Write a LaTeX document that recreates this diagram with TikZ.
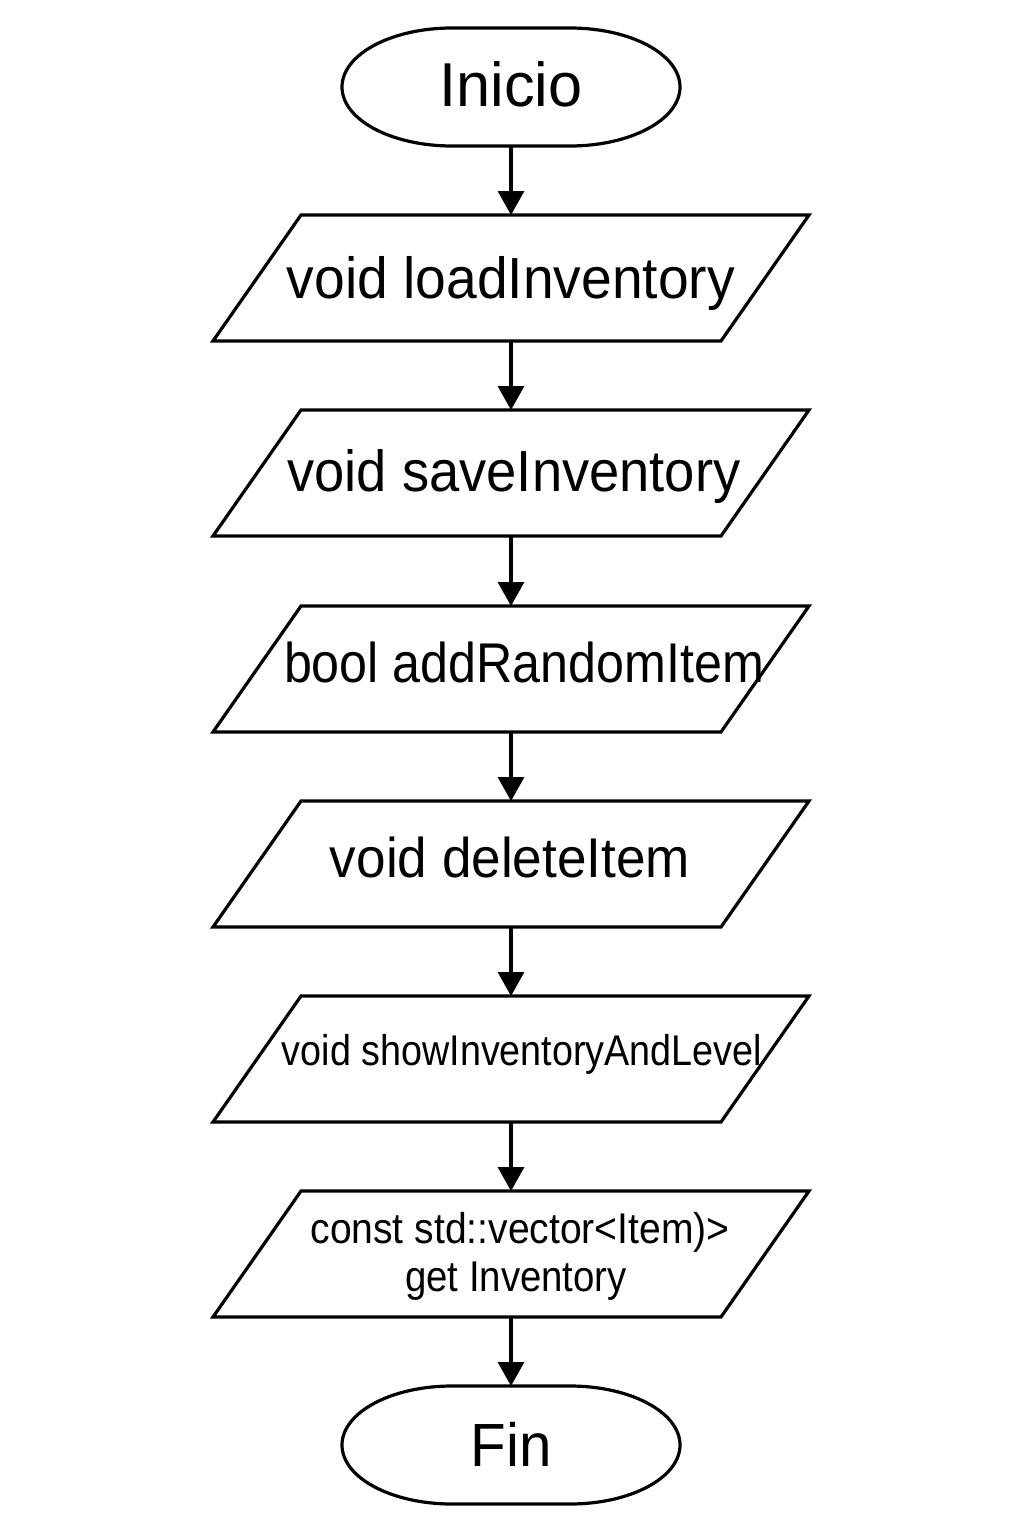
\documentclass[tikz,border=0pt]{standalone}
\usepackage{graphicx}
\usepackage{fontspec}
\setmainfont{Liberation Sans}
\usetikzlibrary{arrows.meta,calc}
\tikzset{
  box/.style={draw=none, inner sep=0pt, outer sep=0pt, minimum width=596pt, minimum height=126pt},
  term/.style={draw=none, inner sep=0pt, outer sep=0pt, minimum width=338pt, minimum height=118pt},
  lbl/.style={inner sep=0pt, outer sep=0pt, anchor=base, align=center},
  flow/.style={line width=3.2pt, -{Triangle[length=24pt,width=26pt]}},
  outline/.style={line width=3.2pt, line join=miter},
}
\newcommand{\fitw}[3]{{\fontsize{#2}{#2}\selectfont\resizebox{#1}{\height}{#3}}}
\newcommand{\drawterm}[1]{%
  \draw[outline] (#1.west) arc[start angle=180,end angle=90,x radius=110pt,y radius=59pt]
    -- ($(#1.north east)-(110,0)$) arc[start angle=90,end angle=-90,x radius=110pt,y radius=59pt]
    -- ($(#1.south west)+(110,0)$) arc[start angle=270,end angle=180,x radius=110pt,y radius=59pt] -- cycle;}
\newcommand{\drawpar}[1]{%
  \draw[outline] (#1.south west) -- ($(#1.south east)-(88,0)$) -- (#1.north east)
    -- ($(#1.north west)+(88,0)$) -- cycle;}
\begin{document}
\begin{tikzpicture}[x=1pt,y=-1pt]
\useasboundingbox[fill=white] (0,0) rectangle (1024,1536);
% shapes
\node[term] (start) at (511,87) {};
\node[box] (p1) at (511,278) {};
\node[box] (p2) at (511,473) {};
\node[box] (p3) at (511,669) {};
\node[box] (p4) at (511,864) {};
\node[box] (p5) at (511,1059) {};
\node[box] (p6) at (511,1254) {};
\node[term] (end) at (511,1445) {};
\drawterm{start}
\drawterm{end}
\foreach \n in {p1,p2,p3,p4,p5,p6}{\drawpar{\n}}
% texts
\node[lbl] (t0) at (511,107) {\fitw{143pt}{62}{Inicio}};
\node[lbl] (t1) at (511,298) {\fitw{448pt}{58}{void loadInventory}};
\node[lbl] (t2) at (514,491) {\fitw{453pt}{58}{void saveInventory}};
\node[lbl] (t3) at (524,682) {\fitw{480pt}{56}{bool addRandomItem}};
\node[lbl] (t4) at (510,877) {\fitw{360pt}{56}{void deleteItem}};
\node[lbl] (t5) at (522,1065) {\fitw{480pt}{43}{void showInventoryAndLevel}};
\node[lbl] (t6a) at (520,1243) {\fitw{419pt}{43}{const std::vector<Item)>}};
\node[lbl] (t6b) at (516,1291) {\fitw{222pt}{43}{get Inventory}};
\node[lbl] (t7) at (511,1466) {\fitw{81pt}{61}{Fin}};
% connectors
\draw[flow] (start.south) -- (p1.north);
\draw[flow] (p1.south) -- (p2.north);
\draw[flow] (p2.south) -- (p3.north);
\draw[flow] (p3.south) -- (p4.north);
\draw[flow] (p4.south) -- (p5.north);
\draw[flow] (p5.south) -- (p6.north);
\draw[flow] (p6.south) -- (end.north);
\end{tikzpicture}
\end{document}
